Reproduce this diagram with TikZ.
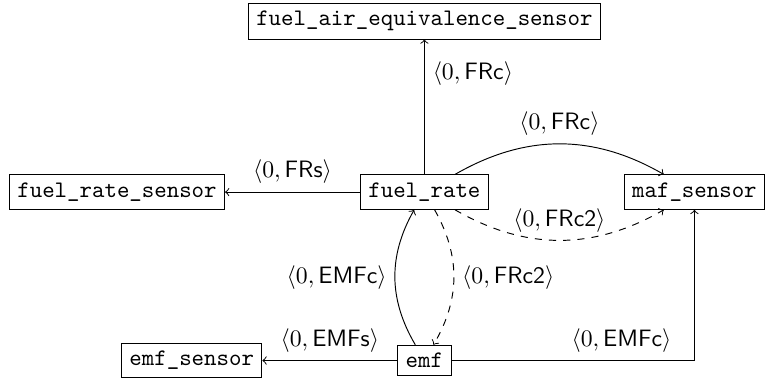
\documentclass[tikz,border=0pt]{standalone}
\usetikzlibrary{positioning}

\tikzset{var/.style={draw, font=\ttfamily}}
\newcommand{\lbl}[1]{$\langle 0, \mathsf{#1}\rangle$}

\begin{document}
\begin{tikzpicture}[node distance=2cm]
                \node[var] (fuelrate) {fuel\_rate};
                \node[var, above=of fuelrate] (fairsensor) {fuel\_air\_equivalence\_sensor};
                \node[var, left=of fuelrate] (fuelratesensor) {fuel\_rate\_sensor};
                \node[var, right=of fuelrate] (mafsensor) {maf\_sensor};
                \node[var, below=of fuelrate] (emf) {emf};
                \node[var, left=of emf] (emfsensor) {emf\_sensor};

                \draw[->] (fuelrate) -- node[near end, right] {\lbl{FRc}} (fairsensor);
                \draw[->] (fuelrate) -- node[above] {\lbl{FRs}} (fuelratesensor);
                \draw[->] (fuelrate) to[bend left=30] node[above] {\lbl{FRc}} (mafsensor);
                \draw[->, dashed] (fuelrate) to[bend right=30] node[above] {\lbl{FRc2}} (mafsensor);
                \draw[->, dashed] (fuelrate) to[bend left=30] node[right] {\lbl{FRc2}} (emf);
                \draw[->] (emf) to[bend left=30] node[left] {\lbl{EMFc}} (fuelrate);
                \draw[->] (emf) -- node[above] {\lbl{EMFs}} (emfsensor);
                \draw[->] (emf) -| node[pos=0.35, above] {\lbl{EMFc}} (mafsensor);

                % margins
                \path (fuelratesensor.west) ++(-3.8pt,0) coordinate (lft);
                \path (mafsensor.east) ++(0.4pt,0) coordinate (rgt);
                \coordinate (low) at (0,-79pt);
                \coordinate (high) at (0,81pt);
                \useasboundingbox (lft |- low) rectangle (rgt |- high);
\end{tikzpicture}
\end{document}
